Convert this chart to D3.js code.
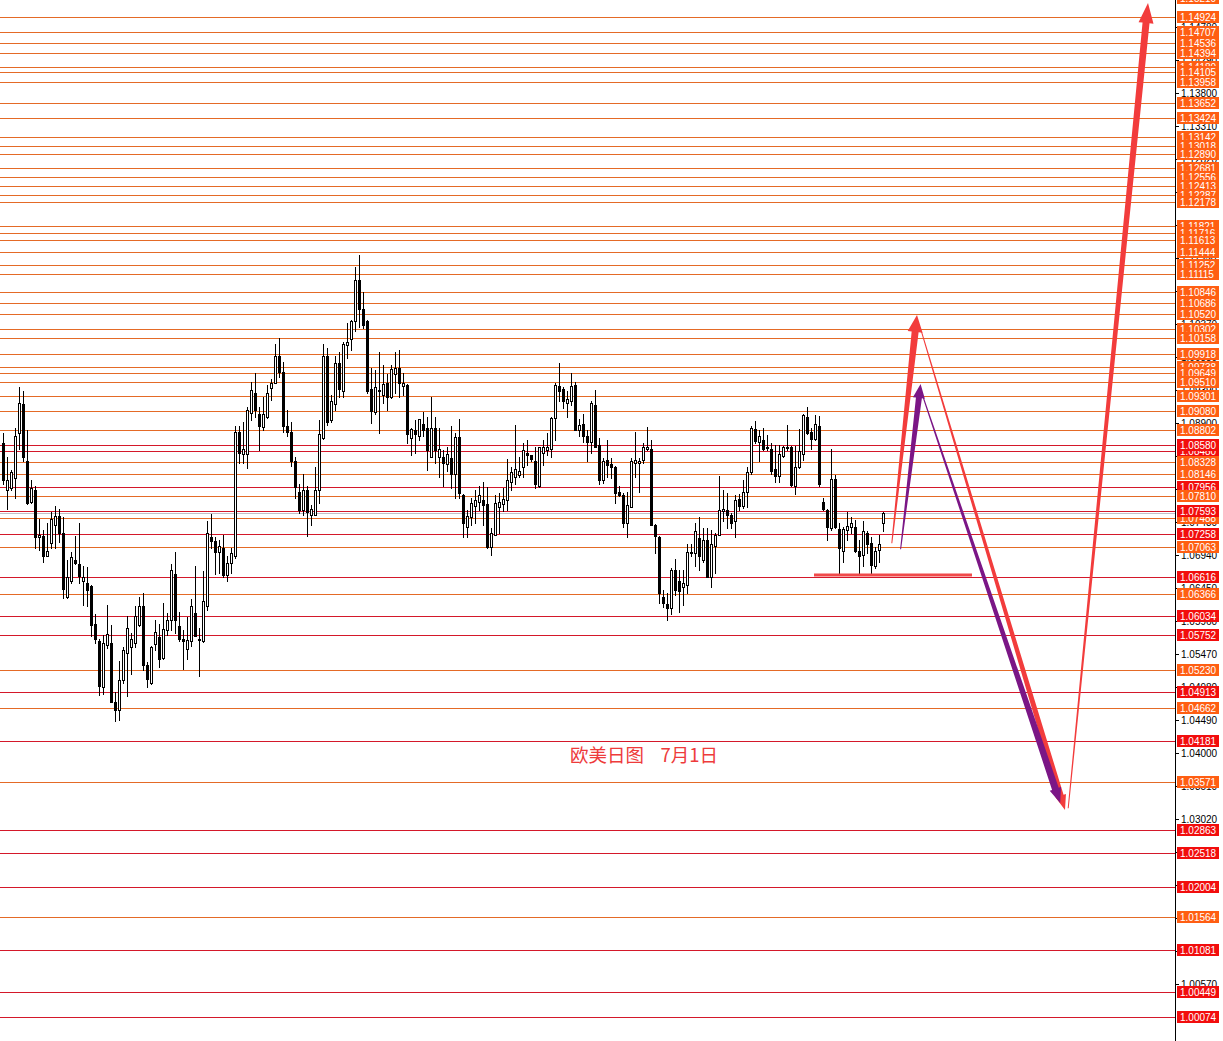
<!DOCTYPE html>
<html><head><meta charset="utf-8">
<script src="https://cdn.jsdelivr.net/npm/d3@7"></script>
<style>html,body{margin:0;padding:0;background:#fff;overflow:hidden}svg{display:block}</style>
</head><body><div id="chart"></div>
<script>
// ---------------- DATA ----------------
const open = [
1.0860,1.0791,1.0793,1.0808,1.0875,1.0918,1.0834,1.0773,1.0790,1.0720,
1.0722,1.0693,1.0712,1.0738,1.0752,1.0727,1.0631,1.0655,1.0686,1.0681,
1.0655,1.0653,1.0648,1.0591,1.0566,1.0498,1.0561,1.0563,1.0475,1.0464,
1.0508,1.0548,1.0557,1.0563,1.0590,1.0619,1.0530,1.0504,1.0562,1.0572,
1.0541,1.0582,1.0598,1.0666,1.0588,1.0570,1.0555,1.0566,1.0608,1.0570,
1.0566,1.0618,1.0721,1.0715,1.0698,1.0704,1.0665,1.0682,1.0693,1.0876,
1.0844,1.0844,1.0905,1.0935,1.0904,1.0884,1.0899,1.0942,1.0950,1.0989,
1.0966,1.0885,1.0876,1.0834,1.0788,1.0761,1.0790,1.0753,1.0753,1.0791,
1.0867,1.0990,1.0894,1.0918,1.0979,1.0937,1.1006,1.1014,1.1041,1.1103,
1.1059,1.1042,1.0940,1.0907,1.0937,1.0932,1.0950,1.0929,1.0963,1.0971,
1.0945,1.0946,1.0867,1.0879,1.0870,1.0888,1.0882,1.0839,1.0882,1.0839,
1.0839,1.0829,1.0838,1.0815,1.0869,1.0783,1.0736,1.0751,1.0767,1.0773,
1.0775,1.0770,1.0706,1.0724,1.0765,1.0770,1.0776,1.0803,1.0810,1.0813,
1.0825,1.0845,1.0842,1.0833,1.0796,1.0845,1.0850,1.0851,1.0897,1.0945,
1.0940,1.0919,1.0922,1.0946,1.0879,1.0888,1.0870,1.0862,1.0917,1.0857,
1.0806,1.0835,1.0829,1.0825,1.0787,1.0783,1.0741,1.0766,1.0830,1.0830,
1.0835,1.0851,1.0852,1.0739,1.0721,1.0632,1.0621,1.0615,1.0671,1.0656,
1.0647,1.0649,1.0697,1.0697,1.0719,1.0687,1.0717,1.0661,1.0707,1.0724,
1.0759,1.0761,1.0753,1.0744,1.0777,1.0767,1.0787,1.0817,1.0881,1.0862,
1.0865,1.0853,1.0851,1.0821,1.0811,1.0841,1.0853,1.0855,1.0797,1.0824,
1.0844,1.0899,1.0876,1.0866,1.0886,1.0772,1.0761,1.0734,1.0807,1.0732,
1.0700,1.0731,1.0736,1.0735,1.0700,1.0694,1.0727,1.0712,1.0677,1.0702,
1.0742];
const high = [
1.0875,1.0840,1.0820,1.0882,1.0944,1.0937,1.0879,1.0805,1.0796,1.0747,
1.0731,1.0741,1.0758,1.0767,1.0763,1.0750,1.0687,1.0699,1.0722,1.0741,
1.0677,1.0676,1.0649,1.0607,1.0570,1.0575,1.0620,1.0590,1.0491,1.0536,
1.0558,1.0604,1.0578,1.0618,1.0632,1.0637,1.0535,1.0559,1.0598,1.0591,
1.0622,1.0608,1.0681,1.0698,1.0610,1.0582,1.0602,1.0628,1.0678,1.0585,
1.0670,1.0744,1.0755,1.0721,1.0717,1.0724,1.0692,1.0704,1.0885,1.0885,
1.0892,1.0914,1.0951,1.0964,1.0914,1.0929,1.0946,1.0956,1.1007,1.1016,
1.0981,1.0910,1.0892,1.0839,1.0800,1.0815,1.0796,1.0768,1.0825,1.0894,
1.1007,1.1001,1.0932,1.0989,1.0996,1.1011,1.1038,1.1043,1.1122,1.1140,
1.1084,1.1043,1.0971,1.0969,1.0996,1.0976,1.0963,1.0976,1.0996,1.0998,
1.0964,1.0948,1.0882,1.0894,1.0896,1.0907,1.0899,1.0929,1.0899,1.0882,
1.0850,1.0855,1.0885,1.0875,1.0896,1.0784,1.0761,1.0778,1.0791,1.0796,
1.0803,1.0795,1.0734,1.0783,1.0786,1.0793,1.0837,1.0825,1.0887,1.0840,
1.0860,1.0865,1.0843,1.0854,1.0855,1.0865,1.0875,1.0899,1.0949,1.0979,
1.0944,1.0937,1.0964,1.0951,1.0896,1.0904,1.0880,1.0922,1.0939,1.0867,
1.0838,1.0865,1.0838,1.0826,1.0796,1.0786,1.0788,1.0838,1.0876,1.0838,
1.0860,1.0884,1.0865,1.0740,1.0722,1.0642,1.0637,1.0674,1.0688,1.0672,
1.0672,1.0710,1.0711,1.0741,1.0751,1.0734,1.0734,1.0731,1.0727,1.0811,
1.0791,1.0786,1.0756,1.0783,1.0784,1.0806,1.0825,1.0885,1.0893,1.0880,
1.0882,1.0872,1.0861,1.0857,1.0857,1.0856,1.0887,1.0856,1.0856,1.0881,
1.0904,1.0914,1.0882,1.0902,1.0900,1.0778,1.0763,1.0852,1.0813,1.0742,
1.0736,1.0758,1.0751,1.0746,1.0716,1.0744,1.0729,1.0721,1.0706,1.0724,
1.0758];
const low = [
1.0800,1.0763,1.0791,1.0778,1.0852,1.0833,1.0770,1.0771,1.0704,1.0701,
1.0684,1.0692,1.0704,1.0704,1.0714,1.0630,1.0630,1.0653,1.0680,1.0652,
1.0620,1.0619,1.0574,1.0563,1.0486,1.0488,1.0556,1.0476,1.0447,1.0449,
1.0504,1.0484,1.0517,1.0557,1.0588,1.0523,1.0498,1.0503,1.0553,1.0527,
1.0539,1.0575,1.0583,1.0578,1.0567,1.0525,1.0539,1.0559,1.0573,1.0514,
1.0565,1.0613,1.0705,1.0666,1.0667,1.0662,1.0655,1.0667,1.0690,1.0830,
1.0830,1.0823,1.0894,1.0899,1.0850,1.0879,1.0898,1.0924,1.0949,1.0959,
1.0877,1.0870,1.0826,1.0778,1.0756,1.0753,1.0722,1.0739,1.0753,1.0771,
1.0866,1.0887,1.0892,1.0909,1.0929,1.0929,1.0986,1.0998,1.1026,1.1033,
1.1031,1.0935,1.0890,1.0904,1.0875,1.0919,1.0909,1.0927,1.0934,1.0929,
1.0932,1.0860,1.0843,1.0845,1.0865,1.0870,1.0820,1.0839,1.0830,1.0810,
1.0796,1.0818,1.0793,1.0778,1.0778,1.0721,1.0721,1.0739,1.0741,1.0761,
1.0739,1.0704,1.0694,1.0723,1.0726,1.0760,1.0761,1.0791,1.0800,1.0810,
1.0810,1.0828,1.0834,1.0793,1.0795,1.0828,1.0843,1.0840,1.0865,1.0922,
1.0912,1.0899,1.0917,1.0879,1.0870,1.0862,1.0833,1.0845,1.0854,1.0800,
1.0801,1.0810,1.0809,1.0771,1.0781,1.0736,1.0721,1.0765,1.0810,1.0788,
1.0830,1.0850,1.0738,1.0697,1.0622,1.0617,1.0597,1.0607,1.0635,1.0610,
1.0620,1.0637,1.0692,1.0677,1.0672,1.0684,1.0661,1.0647,1.0667,1.0723,
1.0744,1.0734,1.0734,1.0721,1.0761,1.0764,1.0766,1.0815,1.0860,1.0833,
1.0850,1.0850,1.0815,1.0803,1.0803,1.0840,1.0850,1.0796,1.0785,1.0823,
1.0835,1.0874,1.0852,1.0865,1.0796,1.0761,1.0716,1.0731,1.0734,1.0667,
1.0684,1.0716,1.0726,1.0699,1.0667,1.0677,1.0697,1.0667,1.0674,1.0683,
1.0730];
const close = [
1.0805,1.0805,1.0817,1.0870,1.0920,1.0840,1.0771,1.0794,1.0720,1.0724,
1.0693,1.0700,1.0748,1.0752,1.0727,1.0643,1.0661,1.0691,1.0682,1.0663,
1.0661,1.0642,1.0590,1.0570,1.0500,1.0564,1.0577,1.0476,1.0464,1.0508,
1.0553,1.0585,1.0569,1.0603,1.0618,1.0530,1.0510,1.0558,1.0579,1.0540,
1.0584,1.0598,1.0672,1.0598,1.0569,1.0567,1.0568,1.0619,1.0574,1.0568,
1.0626,1.0727,1.0715,1.0698,1.0708,1.0665,1.0682,1.0697,1.0876,1.0845,
1.0851,1.0910,1.0939,1.0909,1.0885,1.0904,1.0934,1.0950,1.0990,1.0966,
1.0885,1.0876,1.0834,1.0795,1.0761,1.0791,1.0758,1.0762,1.0791,1.0873,
1.0990,1.0892,1.0922,1.0979,1.0940,1.1008,1.1011,1.1041,1.1103,1.1060,
1.1036,1.0938,1.0908,1.0943,1.0939,1.0948,1.0929,1.0970,1.0971,1.0949,
1.0949,1.0873,1.0881,1.0873,1.0896,1.0879,1.0850,1.0882,1.0850,1.0851,
1.0831,1.0844,1.0815,1.0869,1.0786,1.0741,1.0752,1.0771,1.0775,1.0783,
1.0768,1.0706,1.0727,1.0771,1.0773,1.0777,1.0806,1.0817,1.0821,1.0819,
1.0850,1.0842,1.0837,1.0800,1.0854,1.0854,1.0855,1.0897,1.0946,1.0937,
1.0922,1.0925,1.0945,1.0880,1.0887,1.0870,1.0862,1.0919,1.0855,1.0806,
1.0834,1.0828,1.0825,1.0786,1.0783,1.0741,1.0768,1.0834,1.0835,1.0834,
1.0855,1.0854,1.0739,1.0722,1.0637,1.0622,1.0615,1.0672,1.0642,1.0641,
1.0653,1.0699,1.0699,1.0729,1.0692,1.0717,1.0662,1.0710,1.0724,1.0761,
1.0762,1.0753,1.0742,1.0776,1.0767,1.0787,1.0817,1.0882,1.0864,1.0870,
1.0852,1.0855,1.0819,1.0811,1.0844,1.0854,1.0855,1.0798,1.0825,1.0849,
1.0902,1.0875,1.0866,1.0889,1.0800,1.0763,1.0736,1.0807,1.0736,1.0704,
1.0732,1.0737,1.0741,1.0700,1.0692,1.0729,1.0711,1.0679,1.0700,1.0711,
1.0756];

// horizontal price levels (o = orange, r = red)
const levelValues = [1.15210,1.14924,1.14707,1.14536,1.14394,1.14180,1.14105,1.13958,1.13652,1.13424,
 1.13142,1.13018,1.12890,1.12681,1.12556,1.12413,1.12287,1.12178,1.11821,1.11716,1.11613,1.11444,
 1.11252,1.11115,1.10846,1.10686,1.10520,1.10302,1.10158,1.09918,1.09738,1.09649,1.09510,1.09301,
 1.09080,1.08802,1.08480,1.08580,1.08328,1.08146,1.07956,1.07810,1.07488,1.07593,1.07258,1.07063,
 1.06616,1.06366,1.06034,1.05752,1.05230,1.04913,1.04662,1.04181,1.03571,1.02863,1.02518,1.02004,
 1.01564,1.01081,1.00449,1.00074];
const levelKinds = ["o","o","o","o","o","o","o","o","o","o",
 "o","o","o","o","o","o","o","o","o","o","o","o",
 "o","o","o","o","o","o","o","o","o","o","o","o",
 "o","o","r","r","o","o","r","o","o","r","r","o",
 "r","o","r","r","o","r","o","r","o","r","r","r",
 "o","r","r","r"];

// price-axis ticks
const tickStart = 1.00570, tickStep = 0.0049, tickCount = 31;

// annotations (bar index, price)
const supportFrom = 202.75, supportTo = 242.25, supportPrice = 1.06643;
const arrowX0 = [222.2, 229.6, 224.4, 229.6, 266.3];
const arrowP0 = [1.07114, 1.1026, 1.07025, 1.0936, 1.0318];
const arrowX1 = [228.5, 265.5, 229.4, 264.3, 286.25];
const arrowP1 = [1.10503, 1.03154, 1.09479, 1.03258, 1.15136];
const arrowKinds = ["red","red","purple","purple","red"];
const titleText = "欧美日图    7月1日";
const titleX = 141.75, titlePrice = 1.03866;

// ---------------- STYLE ----------------
const W = 1223, H = 1041, axisX = 1175;
const lineColor = {o:"#e46a26", r:"#d4182a"};
const boxColor = {o:"#ff5e12", r:"#f20d0d"};
const arrowColor = {red:"#f23c3c", purple:"#7b1686"};
const arrowW = [[1,7,17,15],[1,6,15,11],[1,6,14,12],[1,7,15,12],[1,7,20,15]];

const svg = d3.select("#chart").append("svg").attr("width",W).attr("height",H)
  .style("font-family","'Liberation Sans',Arial,sans-serif");
svg.append("rect").attr("width",W).attr("height",H).attr("fill","#fff");

const x = d3.scaleLinear().domain([0,220]).range([3,883]);
const y = d3.scaleLinear().domain([1.04,1.138]).range([753,93]);
const py = v => Math.round(y(v)) + 0.5;

// level lines
const gl = svg.append("g").attr("shape-rendering","crispEdges");
levelValues.forEach((v,i)=>{
  gl.append("line").attr("x1",0).attr("x2",axisX).attr("y1",py(v)).attr("y2",py(v))
    .attr("stroke",lineColor[levelKinds[i]]).attr("stroke-width",1);
});
// current price line
gl.append("line").attr("x1",0).attr("x2",axisX).attr("y1",py(close[close.length-1])).attr("y2",py(close[close.length-1]))
  .attr("stroke","#c0c0c8").attr("stroke-width",1);

// candles
const gc = svg.append("g").attr("shape-rendering","crispEdges");
open.forEach((o,i)=>{
  const c = close[i], cx = Math.round(x(i));
  gc.append("line").attr("x1",cx+0.5).attr("x2",cx+0.5)
    .attr("y1",Math.round(y(high[i]))).attr("y2",Math.round(y(low[i]))+1).attr("stroke","#000");
  const top = Math.round(y(Math.max(o,c))), bot = Math.round(y(Math.min(o,c)));
  gc.append("rect").attr("x",cx-0.5).attr("y",top+0.5).attr("width",2).attr("height",Math.max(0,bot-top))
    .attr("fill", c>=o ? "#fff" : "#000").attr("stroke","#000").attr("stroke-width",1);
});

// support line
svg.append("line").attr("x1",x(supportFrom)).attr("x2",x(supportTo))
  .attr("y1",y(supportPrice)).attr("y2",y(supportPrice))
  .attr("stroke","#f04a4a").attr("stroke-width",3);

// arrows
function arrowPoly(x0,y0,x1,y1,w0,w1,hl,hw){
  const dx=x1-x0, dy=y1-y0, L=Math.hypot(dx,dy), ux=dx/L, uy=dy/L, nx=-uy, ny=ux;
  const bx=x1-ux*hl, by=y1-uy*hl;
  return [[x0+nx*w0/2,y0+ny*w0/2],[bx+nx*w1/2,by+ny*w1/2],[bx+nx*hw/2,by+ny*hw/2],[x1,y1],
          [bx-nx*hw/2,by-ny*hw/2],[bx-nx*w1/2,by-ny*w1/2],[x0-nx*w0/2,y0-ny*w0/2]];
}
const ga = svg.append("g");
[0,1,2,3,4].forEach(i=>{
  const p = arrowPoly(x(arrowX0[i]),y(arrowP0[i]),x(arrowX1[i]),y(arrowP1[i]),...arrowW[i]);
  ga.append("polygon").attr("points",p.map(d=>d.join(",")).join(" "))
    .attr("fill",arrowColor[arrowKinds[i]]);
});

// title
svg.append("text").attr("x",x(titleX)).attr("y",y(titlePrice))
  .attr("font-family","'Noto Sans CJK SC',sans-serif").attr("font-size",18.5)
  .attr("fill","#ee3b3b").style("white-space","pre").text(titleText);

// axis
const gx = svg.append("g").attr("shape-rendering","crispEdges");
gx.append("line").attr("x1",axisX+0.5).attr("x2",axisX+0.5).attr("y1",0).attr("y2",H).attr("stroke","#000");
const ticks = d3.range(tickCount).map(k=>+(tickStart+k*tickStep).toFixed(5));
ticks.forEach(t=>{
  const yy = py(t);
  gx.append("line").attr("x1",axisX+1).attr("x2",axisX+4).attr("y1",yy).attr("y2",yy).attr("stroke","#000");
  svg.append("text").attr("x",axisX+6).attr("y",yy+3.5).attr("font-size",10).attr("fill","#000")
    .text(d3.format(".5f")(t));
});
// level labels
levelValues.forEach((v,i)=>{
  const yy = Math.round(y(v));
  svg.append("rect").attr("x",axisX+2).attr("y",yy-6).attr("width",42).attr("height",12)
    .attr("fill",boxColor[levelKinds[i]]);
  svg.append("text").attr("x",axisX+5).attr("y",yy+4).attr("font-size",10).attr("fill","#fff")
    .text(d3.format(".5f")(v));
});
</script></body></html>
